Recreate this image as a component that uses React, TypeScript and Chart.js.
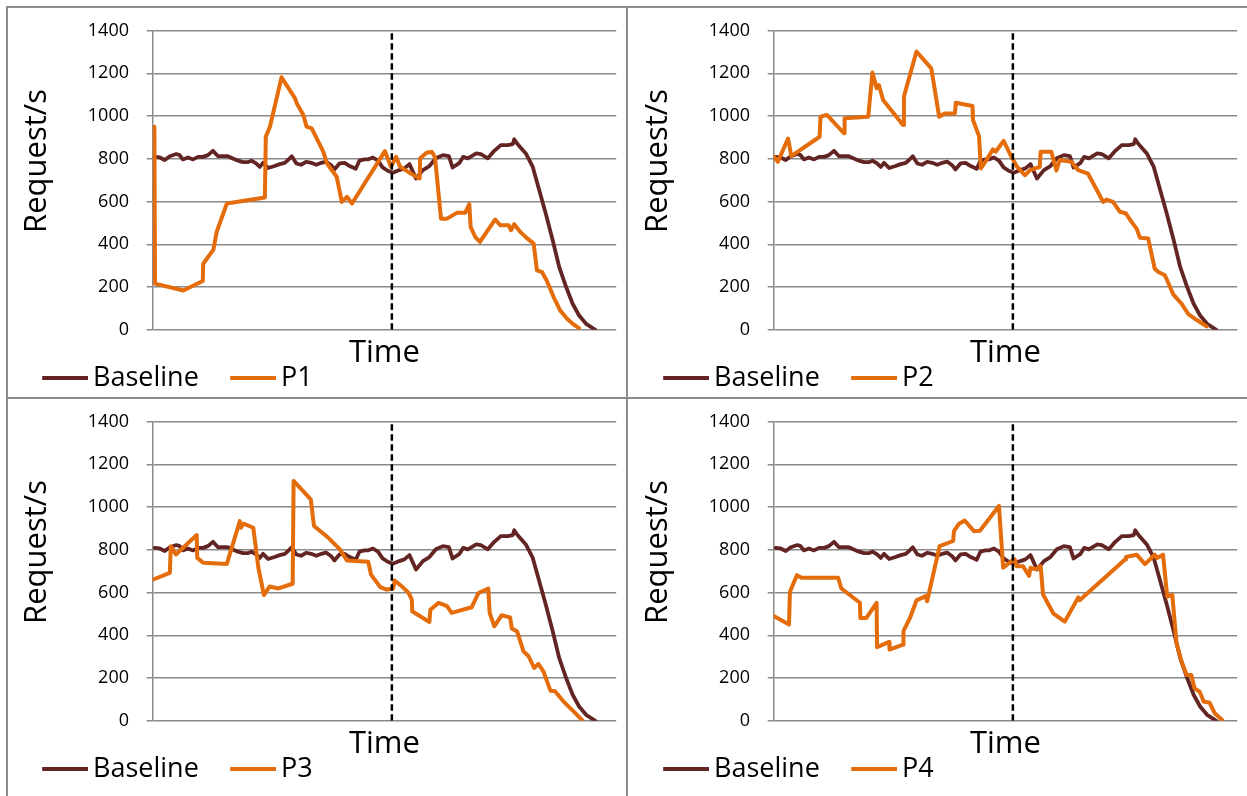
import React, { useEffect, useRef } from "react";
import { Chart, registerables } from "chart.js";

Chart.register(...registerables);

// ---------- data ----------
const yTickValues = [0, 200, 400, 600, 800, 1000, 1200, 1400];
const xTitle = "Time";
const yTitle = "Request/s";
const baselineLabel = "Baseline";
const markerTime = 51.6;

const baselineT = [0.4,1.5,2.6,3.7,5.1,5.8,6.5,7.6,8.7,9.8,10.9,11.9,13.0,14.1,15.2,16.2,17.3,18.4,19.5,20.5,21.3,22.3,23.1,23.8,24.9,26.3,27.4,28.5,29.2,30.0,31.0,32.0,33.1,34.2,35.3,36.4,37.4,38.5,39.2,40.3,41.4,42.5,43.8,44.6,45.7,46.4,47.5,48.6,49.6,50.7,51.8,53.2,54.3,55.4,56.8,58.3,59.7,61.1,62.6,63.9,64.7,66.2,67.0,68.0,69.8,70.8,72.3,73.7,75.1,76.6,77.7,78.0,78.7,80.5,82.0,83.4,84.8,86.3,87.7,89.2,90.6,92.0,93.5,95.5];
const baselineV = [809,806,794,812,822,817,797,806,797,809,809,817,837,812,812,812,801,791,784,784,791,778,762,781,757,766,775,781,794,812,778,772,786,781,772,781,787,770,750,778,781,766,753,791,797,797,806,791,760,744,735,747,755,775,708,747,766,802,817,812,759,781,809,802,825,822,802,837,864,864,869,891,869,825,762,653,544,419,294,200,122,67,28,0];

const p1T = [0.36,0.5,6.6,10.8,10.9,13.1,13.8,16.0,24.2,24.4,25.3,27.8,30.7,31.1,32.5,33.2,34.3,36.8,37.6,39.7,40.8,41.9,43.0,50.1,51.4,52.5,53.4,54.5,56.6,57.6,57.7,59.1,60.2,60.9,62.2,63.5,65.6,67.4,68.3,68.6,69.6,70.6,73.9,75.0,76.8,77.3,78.0,79.3,80.6,82.2,82.9,84.0,85.0,86.5,87.9,89.4,90.8,92.0];
const p1V = [950,216,184,228,309,375,458,591,619,903,950,1181,1083,1059,1005,950,942,833,778,716,598,622,591,836,762,809,762,747,719,708,802,828,833,809,520,520,547,547,588,481,434,411,516,489,489,466,494,458,431,403,278,270,231,153,91,52,25,8];

const p2T = [0.1,0.9,3.1,3.8,9.9,10.1,11.5,13.5,15.2,15.3,20.4,21.3,22.2,22.7,23.6,27.9,28.1,30.8,34.0,35.7,36.9,39.1,39.3,42.9,43.0,44.3,44.7,45.9,47.3,47.9,49.6,51.3,52.4,54.2,55.3,57.4,57.6,59.9,60.3,61.0,61.7,64.2,65.7,67.8,71.1,71.8,73.2,74.7,76.0,77.2,78.3,79.0,80.8,82.2,83.0,84.4,86.2,88.0,89.4,91.2,93.4];
const p2V = [809,786,895,812,903,997,1005,958,919,989,997,1203,1130,1145,1075,958,1091,1302,1223,997,1012,1012,1062,1047,981,906,755,794,844,833,884,809,766,723,747,762,833,833,800,745,794,786,747,731,598,609,598,552,544,505,473,431,427,286,270,255,166,122,75,47,16];

const p3T = [0.1,3.7,3.9,5.0,9.5,9.6,10.9,16.0,18.8,19.0,19.6,21.7,22.8,24.0,25.2,27.1,30.2,30.4,34.1,34.8,37.9,40.4,41.9,46.5,47.1,49.1,50.5,51.9,52.2,54.1,55.2,55.9,56.0,57.7,59.7,59.9,61.7,63.5,64.5,68.8,70.3,72.4,72.7,73.7,75.3,77.1,77.5,78.6,80.0,81.1,82.3,83.2,84.3,85.8,86.8,88.6,90.8,92.8];
const p3V = [661,692,817,778,869,762,739,734,934,903,922,903,716,588,628,619,641,1122,1036,911,856,802,750,744,684,625,614,619,656,622,598,567,512,489,462,519,552,536,505,531,598,619,505,442,494,484,431,419,325,302,247,266,231,141,138,91,44,0];

const p4T = [0.1,3.3,3.5,5.0,6.0,13.9,14.6,18.6,18.7,20.0,22.2,22.3,24.9,25.0,27.9,28.0,29.4,30.8,32.8,33.1,35.8,38.7,38.9,40.0,41.2,43.2,44.5,48.6,49.5,51.3,52.0,52.4,53.8,55.1,55.4,56.7,57.6,58.1,60.3,62.8,65.7,66.0,75.8,76.0,78.3,80.1,82.2,82.7,84.0,84.9,86.0,86.9,88.0,89.1,90.1,90.8,91.9,92.8,94.0,95.2,96.8];
const p4V = [489,450,603,681,669,669,619,552,481,481,552,344,369,333,356,419,481,563,583,559,817,841,887,922,937,887,889,1005,716,747,755,723,723,678,716,709,723,592,503,464,577,564,755,766,777,733,777,761,777,581,589,364,277,214,214,152,136,89,86,34,3];

const seriesNames = ["P1", "P2", "P3", "P4"];
const seriesT = [p1T, p2T, p3T, p4T];
const seriesV = [p1V, p2V, p3V, p4V];

// ---------- style ----------
const FONT = "'Open Sans', sans-serif";
const BASE_COLOR = "#632523";
const P_COLOR = "#E46C0A";
const GRID_COLOR = "#8a8a8a";
const FRAME_COLOR = "#8c8c8c";
const CANVAS_W = 619;
const CANVAS_H = 400;

function toPoints(t: number[], v: number[]) {
  const n = Math.min(t.length, v.length);
  const out: { x: number; y: number }[] = [];
  for (let i = 0; i < n; i++) out.push({ x: t[i], y: v[i] });
  return out;
}

function legendLine(color: string) {
  const c = document.createElement("canvas");
  c.width = 76;
  c.height = 4;
  const g = c.getContext("2d");
  if (g) {
    g.fillStyle = color;
    g.fillRect(30, 0, 46, 4);
  }
  return c;
}

const yTitlePlugin = {
  id: "yTitleDraw",
  afterDraw(chart: any) {
    const { ctx, chartArea } = chart;
    ctx.save();
    ctx.translate(chartArea.left - 115.4, chartArea.top + 130.5);
    ctx.rotate(-Math.PI / 2);
    ctx.font = `31px ${FONT}`;
    ctx.fillStyle = "#000";
    ctx.textAlign = "center";
    ctx.textBaseline = "middle";
    ctx.fillText(yTitle, 0, 0);
    ctx.restore();
  },
};

function Panel({ index, left, top }: { index: number; left: number; top: number }) {
  const ref = useRef<HTMLCanvasElement | null>(null);
  useEffect(() => {
    if (!ref.current) return;
    const name = seriesNames[index];
    const baseImg = legendLine(BASE_COLOR);
    const pImg = legendLine(P_COLOR);
    const chart = new Chart(ref.current, {
      type: "line",
      data: {
        datasets: [
          {
            label: "marker",
            data: [
              { x: markerTime, y: 0 },
              { x: markerTime, y: 1400 },
            ],
            borderColor: "#000",
            borderWidth: 2.5,
            borderDash: [6.5, 3.5],
            pointRadius: 0,
            order: 0,
          },
          {
            label: name,
            data: toPoints(seriesT[index], seriesV[index]),
            borderColor: P_COLOR,
            borderWidth: 4,
            pointRadius: 0,
            tension: 0,
            borderJoinStyle: "round",
            borderCapStyle: "round",
            order: 1,
          },
          {
            label: baselineLabel,
            data: toPoints(baselineT, baselineV),
            borderColor: BASE_COLOR,
            borderWidth: 3.8,
            pointRadius: 0,
            tension: 0,
            borderJoinStyle: "round",
            borderCapStyle: "round",
            order: 2,
          },
        ],
      },
      options: {
        animation: false,
        responsive: false,
        events: [],
        layout: { padding: { left: 2.8, top: 22.5, right: 10.8, bottom: 6.2 } },
        plugins: {
          tooltip: { enabled: false },
          legend: {
            position: "bottom",
            align: "start",
            labels: {
              usePointStyle: true,
              pointStyleWidth: 58.7,
              boxHeight: 4,
              padding: 10,
              color: "#000",
              font: { family: FONT, size: 27 },
              generateLabels: () => [
                {
                  text: baselineLabel,
                  pointStyle: baseImg,
                  fillStyle: BASE_COLOR,
                  strokeStyle: BASE_COLOR,
                  lineWidth: 0,
                  hidden: false,
                  datasetIndex: 2,
                  fontColor: "#000",
                },
                {
                  text: name,
                  pointStyle: pImg,
                  fillStyle: P_COLOR,
                  strokeStyle: P_COLOR,
                  lineWidth: 0,
                  hidden: false,
                  datasetIndex: 1,
                  fontColor: "#000",
                },
              ],
            },
          },
        },
        scales: {
          x: {
            type: "linear",
            min: 0,
            max: 100,
            grid: { display: false },
            border: { display: false },
            ticks: { display: false },
            title: {
              display: true,
              text: xTitle,
              color: "#000",
              font: { family: FONT, size: 31, lineHeight: 1 },
              padding: { top: 0, bottom: -13.5 },
            },
            afterFit: (s: any) => {
              s.height = 25;
            },
          },
          y: {
            min: yTickValues[0],
            max: yTickValues[yTickValues.length - 1],
            afterBuildTicks: (s: any) => {
              s.ticks = yTickValues.map((v) => ({ value: v }));
            },
            ticks: {
              color: "#000",
              font: { family: FONT, size: 18, lineHeight: 0.5 },
              padding: 17.7,
              callback: (v: any) => String(v),
            },
            grid: { color: GRID_COLOR, lineWidth: 1.5, tickLength: 6 },
            border: { color: GRID_COLOR, width: 1.5 },
            afterFit: (s: any) => {
              s.width = 141.9;
            },
          },
        },
      },
      plugins: [yTitlePlugin],
    } as any);
    return () => chart.destroy();
  }, [index]);
  return (
    <canvas
      ref={ref}
      width={CANVAS_W}
      height={CANVAS_H}
      style={{ position: "absolute", left, top, width: CANVAS_W, height: CANVAS_H }}
    />
  );
}

export default function App() {
  const frame = (l: number, t: number, w: number, h: number) => (
    <div style={{ position: "absolute", left: l, top: t, width: w, height: h, background: FRAME_COLOR }} />
  );
  return (
    <div
      style={{
        position: "fixed",
        left: 0,
        top: 0,
        width: 1247,
        height: 796,
        overflow: "hidden",
        background: "#fff",
      }}
    >
      <Panel index={0} left={8} top={8} />
      <Panel index={1} left={629} top={8} />
      <Panel index={2} left={8} top={399} />
      <Panel index={3} left={629} top={399} />
      {frame(6, 6, 1241, 2)}
      {frame(6, 6, 2, 790)}
      {frame(626, 6, 2, 790)}
      {frame(6, 397, 1241, 2)}
    </div>
  );
}
